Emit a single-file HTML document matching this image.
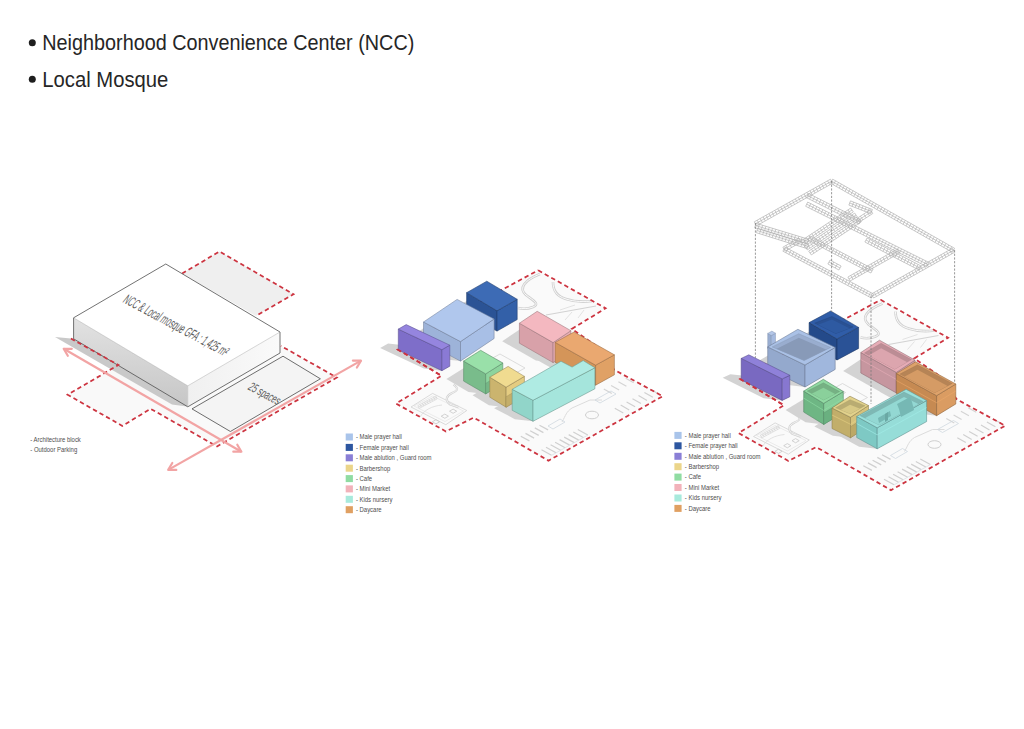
<!DOCTYPE html>
<html><head><meta charset="utf-8"><style>
html,body{margin:0;padding:0;background:#fff;}
body{width:1024px;height:729px;overflow:hidden;position:relative;font-family:"Liberation Sans",sans-serif;}
svg{position:absolute;left:0;top:0;}
</style></head><body>
<svg width="1024" height="729" viewBox="0 0 1024 729">
<g font-family="Liberation Sans">
<circle cx="32.3" cy="42.7" r="3.5" fill="#1e1e1e"/>
<circle cx="32.3" cy="79.2" r="3.5" fill="#1e1e1e"/>
<text x="42.3" y="50" font-size="21.5" fill="#262626" textLength="372" lengthAdjust="spacingAndGlyphs">Neighborhood Convenience Center (NCC)</text>
<text x="42.3" y="86.5" font-size="21.5" fill="#262626" textLength="126" lengthAdjust="spacingAndGlyphs">Local Mosque</text>
</g>
<g id="d1">
<polygon points="182.1,273.6 219.5,251.5 293.5,294.2 256.0,315.9" fill="#efefef" stroke="none" stroke-width="0" />
<polyline points="182.1,273.6 219.5,251.5 293.5,294.2 256.0,315.9" fill="none" stroke="#cd3440" stroke-width="1.75" stroke-dasharray="4.4 3.1" stroke-dashoffset="0.00" stroke-linejoin="miter"/>
<polygon points="118.4,365.0 67.6,394.7 122.3,425.9 150.6,408.8 217.0,446.4 336.8,377.5 280.9,345.9 188.0,405.0" fill="#f9f9f9" stroke="none" stroke-width="0" />
<polygon points="73.6,338.8 55.0,337.0 172.0,404.5 188.7,406.8" fill="#c9c9c9" stroke="none" stroke-width="0" />
<defs><linearGradient id="lf" x1="0" y1="0" x2="0" y2="1"><stop offset="0" stop-color="#e2e2e2"/><stop offset="1" stop-color="#c6c6c6"/></linearGradient><linearGradient id="rf" x1="0" y1="0" x2="1" y2="0"><stop offset="0" stop-color="#f0f0f0"/><stop offset="1" stop-color="#fafafa"/></linearGradient></defs>
<polygon points="73.6,317.8 187.8,385.8 187.8,406.8 73.6,338.8" fill="url(#lf)" stroke="none" stroke-width="0" />
<polygon points="187.8,385.8 280.0,332.0 280.0,353.0 187.8,406.8" fill="url(#rf)" stroke="none" stroke-width="0" />
<polygon points="73.6,317.8 165.8,264.0 280.0,332.0 187.8,385.8" fill="#ffffff" stroke="none" stroke-width="0" />
<polyline points="73.6,338.8 73.6,317.8 165.8,264.0 280.0,332.0 280.0,353.0 187.8,406.8 73.6,338.8" fill="none" stroke="#4e4e4e" stroke-width="0.8" stroke-linejoin="round"/>
<polyline points="73.6,317.8 187.8,385.8 280.0,332.0" fill="none" stroke="#9a9a9a" stroke-width="0.4" />
<polyline points="187.8,385.8 187.8,406.8" fill="none" stroke="#b0b0b0" stroke-width="0.4" />
<polyline points="70.9,338.5 118.4,365.0 67.6,394.7 122.3,425.9 150.6,408.8 217.0,446.4 336.8,377.5 280.9,345.9" fill="none" stroke="#cd3440" stroke-width="1.75" stroke-dasharray="4.4 3.1" stroke-dashoffset="0.00" stroke-linejoin="miter"/>
<polygon points="192.0,408.9 283.0,356.2 320.4,378.8 230.4,431.5" fill="#f4f4f4" stroke="#4a4a4a" stroke-width="0.8" />
<line x1="63.7" y1="348.8" x2="241.4" y2="451.7" stroke="#f2a4a4" stroke-width="2.2"/>
<polyline points="233.3,451.7 241.4,451.7 237.3,444.7" fill="none" stroke="#f2a4a4" stroke-width="2.2" stroke-linecap="round" stroke-linejoin="round"/>
<polyline points="67.8,355.8 63.7,348.8 71.8,348.8" fill="none" stroke="#f2a4a4" stroke-width="2.2" stroke-linecap="round" stroke-linejoin="round"/>
<line x1="168.2" y1="469.9" x2="361" y2="360.6" stroke="#f2a4a4" stroke-width="2.2"/>
<polyline points="356.9,367.5 361.0,360.6 352.9,360.6" fill="none" stroke="#f2a4a4" stroke-width="2.2" stroke-linecap="round" stroke-linejoin="round"/>
<polyline points="176.3,469.9 168.2,469.9 172.3,463.0" fill="none" stroke="#f2a4a4" stroke-width="2.2" stroke-linecap="round" stroke-linejoin="round"/>
<text transform="matrix(0.883,0.47,-0.62,0.78,122,302)" font-family="Liberation Sans" font-size="14.5" fill="#5a5a5a" textLength="116" lengthAdjust="spacingAndGlyphs">NCC &amp; Local mosque GFA : 1,425 m²</text>
<text transform="matrix(0.883,0.47,-0.62,0.78,247,389)" font-family="Liberation Sans" font-size="13" fill="#5a5a5a" textLength="34" lengthAdjust="spacingAndGlyphs">25 spaces</text>
</g>
<g transform="translate(0,0)">
<polygon points="538.2,270.3 605.6,308.3 571.9,328.9 595.0,345.0 614.4,369.9 662.7,396.2 548.5,460.7 473.8,417.6 445.9,431.4 396.1,403.6 441.5,375.7 397.6,349.4 500.1,290.8" fill="#fafafa" stroke="none" stroke-width="0" />
<path d="M540,274 C525,280 518,288 526,295 C534,301 540,304 533,307 C528,309 522,309 518,308" stroke="#d0d0d0" stroke-width="2.6" fill="none"/>
<path d="M540,274 C525,280 518,288 526,295 C534,301 540,304 533,307 C528,309 522,309 518,308" stroke="#fafafa" stroke-width="1.0" fill="none"/>
<path d="M553,282 C553,290 556,296 566,299 C575,302 585,302 592,301" stroke="#d0d0d0" stroke-width="2.6" fill="none"/>
<path d="M553,282 C553,290 556,296 566,299 C575,302 585,302 592,301" stroke="#fafafa" stroke-width="1.0" fill="none"/>
<path d="M546,315 L596,306" stroke="#d2d2d2" stroke-width="1.2" fill="none"/>
<path d="M565,320 L572,312 M578,318 L584,310 M560,310 L575,305" stroke="#dcdcdc" stroke-width="0.8" fill="none"/>
<polygon points="411.0,407.0 432.6,393.4 466.8,410.5 445.8,424.7" fill="none" stroke="#d2d2d2" stroke-width="0.8" />
<polygon points="414.0,406.0 432.6,396.0 463.5,411.0 445.0,421.5" fill="none" stroke="#e0e0e0" stroke-width="0.6" />
<path d="M419.2,408.4L437.2,398.9M417.8,405.6L435.8,396.1M418.5,407.0L436.5,397.5M419.2,408.4L417.8,405.6M421.5,407.2L420.0,404.4M423.7,406.0L422.3,403.2M426.0,404.9L424.5,402.0M428.2,403.7L426.8,400.8M430.5,402.5L429.0,399.6M432.7,401.3L431.3,398.5M435.0,400.1L433.5,397.3M437.2,398.9L435.8,396.1" stroke="#d0d0d0" stroke-width="0.6" fill="none"/>
<polygon points="432.4,421.8 436.0,419.7 439.6,421.8 436.0,423.9" fill="none" stroke="#c8c8c8" stroke-width="0.8" />
<polygon points="441.2,416.2 444.8,414.1 448.4,416.2 444.8,418.3" fill="none" stroke="#c8c8c8" stroke-width="0.8" />
<polygon points="449.5,411.2 453.1,409.1 456.7,411.2 453.1,413.3" fill="none" stroke="#c8c8c8" stroke-width="0.8" />
<path d="M453.6,384.6 C458,388 459,390 452,393 C446,396 445,400 449.7,404.2 L458.5,407.1" stroke="#d2d2d2" stroke-width="2.2" fill="none"/>
<path d="M453.6,384.6 C458,388 459,390 452,393 C446,396 445,400 449.7,404.2 L458.5,407.1" stroke="#fafafa" stroke-width="0.8" fill="none"/>
<path d="M420,417 C424,410 432,406 442,405" stroke="#dadada" stroke-width="0.8" fill="none"/>
<polygon points="480.0,365.0 500.0,354.0 525.0,368.0 505.0,379.0" fill="none" stroke="#d4d4d4" stroke-width="0.8" />
<polygon points="488.0,364.0 496.0,359.0 503.0,363.0 495.0,368.0" fill="none" stroke="#cfcfcf" stroke-width="0.8" />
<polygon points="500.0,372.0 507.0,368.0 513.0,372.0 506.0,376.0" fill="none" stroke="#cfcfcf" stroke-width="0.8" />
<path d="M541.5,449.8l10,5.5M546.0,447.3l10,5.5M550.6,444.7l10,5.5M555.1,442.2l10,5.5M559.6,439.6l10,5.5M564.2,437.1l10,5.5M568.7,434.6l10,5.5M573.3,432.0l10,5.5M577.8,429.5l10,5.5" stroke="#d0d0d0" stroke-width="1.2" fill="none"/>
<path d="M520.8,436.2l8.6,4.7M525.5,433.4l8.6,4.7M530.1,430.7l8.6,4.7M534.8,427.9l8.6,4.7M539.5,425.2l8.6,4.7" stroke="#d0d0d0" stroke-width="1.2" fill="none"/>
<path d="M614.8,408.3l8.5,4.8M620.7,405.1l8.5,4.8M626.6,401.9l8.5,4.8M632.5,398.8l8.5,4.8M638.5,395.6l8.5,4.8M644.4,392.4l8.5,4.8M650.3,389.2l8.5,4.8" stroke="#d0d0d0" stroke-width="1.2" fill="none"/>
<path d="M603.8,389.1l8,4.5M611.1,385.5l8,4.5M618.4,381.8l8,4.5M625.7,378.2l8,4.5" stroke="#d4d4d4" stroke-width="1.2" fill="none"/>
<polyline points="551.6,455.3 588.0,435.0" fill="none" stroke="#d8dde2" stroke-width="0.7" />
<ellipse cx="592" cy="415" rx="6.5" ry="3.8" fill="none" stroke="#cfcfcf" stroke-width="1"/>
<path d="M562,422 C566,415 566,412 572,408 L590,400 L602,400" stroke="#d8d8d8" stroke-width="0.9" fill="none"/>
<polygon points="595.0,400.0 611.0,391.0 616.0,394.0 600.0,403.0" fill="none" stroke="#cfd8e0" stroke-width="0.8" />
<polygon points="548.0,426.0 560.0,419.0 565.0,422.0 553.0,429.0" fill="none" stroke="#cfd8e0" stroke-width="0.8" />
</g>
<polygon points="449.1,311.0 469.3,299.5 486.8,301.5 517.2,319.6 497.0,331.1 479.5,329.1" fill="#d3d3d3" stroke="none" stroke-width="0" />
<polygon points="406.7,339.6 440.3,316.9 457.1,318.9 494.1,338.5 460.5,361.1 443.7,359.2" fill="#d3d3d3" stroke="none" stroke-width="0" />
<polygon points="380.2,348.0 388.1,343.5 406.2,345.6 449.8,366.2 441.9,370.7 423.8,368.6" fill="#d3d3d3" stroke="none" stroke-width="0" />
<polygon points="502.2,341.2 520.0,329.3 537.2,331.3 570.9,350.7 553.1,362.6 535.9,360.6" fill="#d3d3d3" stroke="none" stroke-width="0" />
<polygon points="538.0,360.4 556.8,350.0 574.0,352.0 614.4,374.8 595.6,385.2 578.4,383.2" fill="#d3d3d3" stroke="none" stroke-width="0" />
<polygon points="446.4,379.1 463.5,368.3 480.7,370.3 502.8,383.1 485.7,393.9 468.5,391.9" fill="#d3d3d3" stroke="none" stroke-width="0" />
<polygon points="472.6,395.2 490.9,384.4 508.1,386.4 524.4,396.4 506.1,407.2 488.9,405.2" fill="#d3d3d3" stroke="none" stroke-width="0" />
<polygon points="494.1,408.2 556.0,375.7 574.1,377.8 594.9,388.8 533.0,421.3 514.9,419.2" fill="#d3d3d3" stroke="none" stroke-width="0" />
<g transform="translate(0,0)"><polyline points="538.2,270.3 605.6,308.3 571.9,328.9 595.0,345.0 614.4,369.9 662.7,396.2 548.5,460.7 473.8,417.6 445.9,431.4 396.1,403.6 441.5,375.7 397.6,349.4 500.1,290.8 538.2,270.3" fill="none" stroke="#cd3440" stroke-width="1.75" stroke-dasharray="4.4 3.1" stroke-dashoffset="0.00" stroke-linejoin="miter"/></g>
<polygon points="466.6,292.7 497.0,310.8 497.0,331.1 466.6,313.0" fill="#2b5395" stroke="#1e3b6b" stroke-width="0.55" stroke-linejoin="round"/>
<polygon points="497.0,310.8 517.2,299.3 517.2,319.6 497.0,331.1" fill="#3360a8" stroke="#1e3b6b" stroke-width="0.55" stroke-linejoin="round"/>
<polygon points="466.6,292.7 486.8,281.2 517.2,299.3 497.0,310.8" fill="#3d6bb5" stroke="#1e3b6b" stroke-width="0.55" stroke-linejoin="round"/>
<polygon points="423.5,322.0 460.5,341.6 460.5,361.1 423.5,341.5" fill="#9db3d9" stroke="#71809c" stroke-width="0.55" stroke-linejoin="round"/>
<polygon points="460.5,341.6 494.1,319.0 494.1,338.5 460.5,361.1" fill="#a8bfe6" stroke="#71809c" stroke-width="0.55" stroke-linejoin="round"/>
<polygon points="423.5,322.0 457.1,299.4 494.1,319.0 460.5,341.6" fill="#b0c7ed" stroke="#71809c" stroke-width="0.55" stroke-linejoin="round"/>
<polygon points="398.3,329.1 441.9,349.7 441.9,370.7 398.3,350.1" fill="#7e6ec9" stroke="#5a4f90" stroke-width="0.55" stroke-linejoin="round"/>
<polygon points="441.9,349.7 449.8,345.2 449.8,366.2 441.9,370.7" fill="#8a7ad5" stroke="#5a4f90" stroke-width="0.55" stroke-linejoin="round"/>
<polygon points="398.3,329.1 406.2,324.6 449.8,345.2 441.9,349.7" fill="#9585df" stroke="#5a4f90" stroke-width="0.55" stroke-linejoin="round"/>
<polygon points="519.4,323.2 553.1,342.6 553.1,362.6 519.4,343.2" fill="#d8a1a9" stroke="#9b7379" stroke-width="0.55" stroke-linejoin="round"/>
<polygon points="553.1,342.6 570.9,330.7 570.9,350.7 553.1,362.6" fill="#e8adb5" stroke="#9b7379" stroke-width="0.55" stroke-linejoin="round"/>
<polygon points="519.4,323.2 537.2,311.3 570.9,330.7 553.1,342.6" fill="#f4b8c0" stroke="#9b7379" stroke-width="0.55" stroke-linejoin="round"/>
<polygon points="555.2,342.4 595.6,365.2 595.6,385.2 555.2,362.4" fill="#d49559" stroke="#986b40" stroke-width="0.55" stroke-linejoin="round"/>
<polygon points="595.6,365.2 614.4,354.8 614.4,374.8 595.6,385.2" fill="#e0a165" stroke="#986b40" stroke-width="0.55" stroke-linejoin="round"/>
<polygon points="555.2,342.4 574.0,332.0 614.4,354.8 595.6,365.2" fill="#eaa870" stroke="#986b40" stroke-width="0.55" stroke-linejoin="round"/>
<polygon points="463.6,361.1 485.7,373.9 485.7,393.9 463.6,381.1" fill="#79bc8b" stroke="#578764" stroke-width="0.55" stroke-linejoin="round"/>
<polygon points="485.7,373.9 502.8,363.1 502.8,383.1 485.7,393.9" fill="#8dd49d" stroke="#578764" stroke-width="0.55" stroke-linejoin="round"/>
<polygon points="485.7,383.4 502.8,372.6 502.8,383.1 485.7,393.9" fill="#75b686" stroke="#578764" stroke-width="0.33" />
<polygon points="463.6,361.1 480.7,350.3 502.8,363.1 485.7,373.9" fill="#99e0a9" stroke="#578764" stroke-width="0.55" stroke-linejoin="round"/>
<polygon points="489.8,377.2 506.1,387.2 506.1,407.2 489.8,397.2" fill="#cbb46e" stroke="#92814f" stroke-width="0.55" stroke-linejoin="round"/>
<polygon points="506.1,387.2 524.4,376.4 524.4,396.4 506.1,407.2" fill="#e4cc81" stroke="#92814f" stroke-width="0.55" stroke-linejoin="round"/>
<polygon points="506.1,396.7 524.4,385.9 524.4,396.4 506.1,407.2" fill="#c4ae6a" stroke="#92814f" stroke-width="0.33" />
<polygon points="489.8,377.2 508.1,366.4 524.4,376.4 506.1,387.2" fill="#f0db90" stroke="#92814f" stroke-width="0.55" stroke-linejoin="round"/>
<polygon points="512.2,389.3 533.0,400.3 533.0,421.3 512.2,410.3" fill="#91d5c9" stroke="#689990" stroke-width="0.55" stroke-linejoin="round"/>
<polygon points="533.0,400.3 594.9,367.8 594.9,388.8 533.0,421.3" fill="#a5e5dc" stroke="#689990" stroke-width="0.55" stroke-linejoin="round"/>
<polygon points="512.2,389.3 561.0,361.3 572.1,367.1 583.2,360.6 594.9,367.8 533.0,400.3" fill="#afebe3" stroke="#689990" stroke-width="0.55" stroke-linejoin="round"/>
<g transform="translate(0,0)"><polyline points="441.5,375.7 397.6,349.4" fill="none" stroke="#cd3440" stroke-width="1.75" stroke-dasharray="4.4 3.1" stroke-dashoffset="590.44" stroke-linejoin="miter"/></g>
<g transform="translate(342.5,29.5)">
<polygon points="538.2,270.3 605.6,308.3 571.9,328.9 595.0,345.0 614.4,369.9 662.7,396.2 548.5,460.7 473.8,417.6 445.9,431.4 396.1,403.6 441.5,375.7 397.6,349.4 500.1,290.8" fill="#fafafa" stroke="none" stroke-width="0" />
<path d="M540,274 C525,280 518,288 526,295 C534,301 540,304 533,307 C528,309 522,309 518,308" stroke="#d0d0d0" stroke-width="2.6" fill="none"/>
<path d="M540,274 C525,280 518,288 526,295 C534,301 540,304 533,307 C528,309 522,309 518,308" stroke="#fafafa" stroke-width="1.0" fill="none"/>
<path d="M553,282 C553,290 556,296 566,299 C575,302 585,302 592,301" stroke="#d0d0d0" stroke-width="2.6" fill="none"/>
<path d="M553,282 C553,290 556,296 566,299 C575,302 585,302 592,301" stroke="#fafafa" stroke-width="1.0" fill="none"/>
<path d="M546,315 L596,306" stroke="#d2d2d2" stroke-width="1.2" fill="none"/>
<path d="M565,320 L572,312 M578,318 L584,310 M560,310 L575,305" stroke="#dcdcdc" stroke-width="0.8" fill="none"/>
<polygon points="411.0,407.0 432.6,393.4 466.8,410.5 445.8,424.7" fill="none" stroke="#d2d2d2" stroke-width="0.8" />
<polygon points="414.0,406.0 432.6,396.0 463.5,411.0 445.0,421.5" fill="none" stroke="#e0e0e0" stroke-width="0.6" />
<path d="M419.2,408.4L437.2,398.9M417.8,405.6L435.8,396.1M418.5,407.0L436.5,397.5M419.2,408.4L417.8,405.6M421.5,407.2L420.0,404.4M423.7,406.0L422.3,403.2M426.0,404.9L424.5,402.0M428.2,403.7L426.8,400.8M430.5,402.5L429.0,399.6M432.7,401.3L431.3,398.5M435.0,400.1L433.5,397.3M437.2,398.9L435.8,396.1" stroke="#d0d0d0" stroke-width="0.6" fill="none"/>
<polygon points="432.4,421.8 436.0,419.7 439.6,421.8 436.0,423.9" fill="none" stroke="#c8c8c8" stroke-width="0.8" />
<polygon points="441.2,416.2 444.8,414.1 448.4,416.2 444.8,418.3" fill="none" stroke="#c8c8c8" stroke-width="0.8" />
<polygon points="449.5,411.2 453.1,409.1 456.7,411.2 453.1,413.3" fill="none" stroke="#c8c8c8" stroke-width="0.8" />
<path d="M453.6,384.6 C458,388 459,390 452,393 C446,396 445,400 449.7,404.2 L458.5,407.1" stroke="#d2d2d2" stroke-width="2.2" fill="none"/>
<path d="M453.6,384.6 C458,388 459,390 452,393 C446,396 445,400 449.7,404.2 L458.5,407.1" stroke="#fafafa" stroke-width="0.8" fill="none"/>
<path d="M420,417 C424,410 432,406 442,405" stroke="#dadada" stroke-width="0.8" fill="none"/>
<polygon points="480.0,365.0 500.0,354.0 525.0,368.0 505.0,379.0" fill="none" stroke="#d4d4d4" stroke-width="0.8" />
<polygon points="488.0,364.0 496.0,359.0 503.0,363.0 495.0,368.0" fill="none" stroke="#cfcfcf" stroke-width="0.8" />
<polygon points="500.0,372.0 507.0,368.0 513.0,372.0 506.0,376.0" fill="none" stroke="#cfcfcf" stroke-width="0.8" />
<path d="M541.5,449.8l10,5.5M546.0,447.3l10,5.5M550.6,444.7l10,5.5M555.1,442.2l10,5.5M559.6,439.6l10,5.5M564.2,437.1l10,5.5M568.7,434.6l10,5.5M573.3,432.0l10,5.5M577.8,429.5l10,5.5" stroke="#d0d0d0" stroke-width="1.2" fill="none"/>
<path d="M520.8,436.2l8.6,4.7M525.5,433.4l8.6,4.7M530.1,430.7l8.6,4.7M534.8,427.9l8.6,4.7M539.5,425.2l8.6,4.7" stroke="#d0d0d0" stroke-width="1.2" fill="none"/>
<path d="M614.8,408.3l8.5,4.8M620.7,405.1l8.5,4.8M626.6,401.9l8.5,4.8M632.5,398.8l8.5,4.8M638.5,395.6l8.5,4.8M644.4,392.4l8.5,4.8M650.3,389.2l8.5,4.8" stroke="#d0d0d0" stroke-width="1.2" fill="none"/>
<path d="M603.8,389.1l8,4.5M611.1,385.5l8,4.5M618.4,381.8l8,4.5M625.7,378.2l8,4.5" stroke="#d4d4d4" stroke-width="1.2" fill="none"/>
<polyline points="551.6,455.3 588.0,435.0" fill="none" stroke="#d8dde2" stroke-width="0.7" />
<ellipse cx="592" cy="415" rx="6.5" ry="3.8" fill="none" stroke="#cfcfcf" stroke-width="1"/>
<path d="M562,422 C566,415 566,412 572,408 L590,400 L602,400" stroke="#d8d8d8" stroke-width="0.9" fill="none"/>
<polygon points="595.0,400.0 611.0,391.0 616.0,394.0 600.0,403.0" fill="none" stroke="#cfd8e0" stroke-width="0.8" />
<polygon points="548.0,426.0 560.0,419.0 565.0,422.0 553.0,429.0" fill="none" stroke="#cfd8e0" stroke-width="0.8" />
</g>
<polygon points="791.0,341.5 812.6,329.9 830.7,332.0 858.6,348.4 837.0,360.0 818.9,357.9" fill="#d3d3d3" stroke="none" stroke-width="0" />
<polygon points="748.8,366.7 779.0,349.1 797.9,351.3 835.2,369.4 805.0,387.0 786.1,384.8" fill="#d3d3d3" stroke="none" stroke-width="0" />
<polygon points="722.7,377.8 730.3,374.2 748.8,376.3 789.8,396.8 782.2,400.4 763.7,398.2" fill="#d3d3d3" stroke="none" stroke-width="0" />
<polygon points="843.2,370.9 861.9,358.6 879.5,360.7 915.0,380.6 896.3,392.9 878.7,390.9" fill="#d3d3d3" stroke="none" stroke-width="0" />
<polygon points="879.2,391.5 898.4,379.8 915.6,381.8 955.8,404.0 936.6,415.7 919.4,413.7" fill="#d3d3d3" stroke="none" stroke-width="0" />
<polygon points="785.6,410.0 805.2,398.2 823.3,400.3 843.3,412.6 823.7,424.4 805.6,422.3" fill="#d3d3d3" stroke="none" stroke-width="0" />
<polygon points="814.4,426.4 832.4,414.6 850.0,416.7 868.5,426.0 850.5,437.8 832.9,435.8" fill="#d3d3d3" stroke="none" stroke-width="0" />
<polygon points="838.6,435.4 888.0,408.2 906.1,410.3 926.6,421.6 877.2,448.8 859.1,446.7" fill="#d3d3d3" stroke="none" stroke-width="0" />
<g transform="translate(342.5,29.5)"><polyline points="538.2,270.3 605.6,308.3 571.9,328.9 595.0,345.0 614.4,369.9 662.7,396.2 548.5,460.7 473.8,417.6 445.9,431.4 396.1,403.6 441.5,375.7 397.6,349.4 500.1,290.8 538.2,270.3" fill="none" stroke="#cd3440" stroke-width="1.75" stroke-dasharray="4.4 3.1" stroke-dashoffset="0.00" stroke-linejoin="miter"/></g>
<polygon points="809.1,322.6 837.0,339.0 837.0,360.0 809.1,343.6" fill="#244a8a" stroke="#193563" stroke-width="0.55" stroke-linejoin="round"/>
<polygon points="837.0,339.0 858.6,327.4 858.6,348.4 837.0,360.0" fill="#2a5296" stroke="#193563" stroke-width="0.55" stroke-linejoin="round"/>
<polygon points="809.1,322.6 830.7,311.0 858.6,327.4 837.0,339.0" fill="#305da8" stroke="#193563" stroke-width="0.55" stroke-linejoin="round"/>
<clipPath id="c1"><polygon points="814.7,323.1 831.9,316.5 853.0,326.9 835.8,333.5"/></clipPath><polygon points="814.7,323.1 831.9,316.5 853.0,326.9 835.8,333.5" fill="#2a5193" stroke="#214175" stroke-width="0.3" /><g clip-path="url(#c1)"><polygon points="814.7,326.1 831.9,319.5 853.0,329.9 835.8,336.5" fill="#2e5aa2" stroke="none" stroke-width="0" /></g>
<polygon points="767.7,333.4 771.3,335.5 771.3,350.5 767.7,348.4" fill="#9aaed2" stroke="#7a8aa8" stroke-width="0.4" stroke-linejoin="round"/>
<polygon points="771.3,335.5 775.5,333.2 775.5,348.2 771.3,350.5" fill="#a6bbe0" stroke="#7a8aa8" stroke-width="0.4" stroke-linejoin="round"/>
<polygon points="767.7,333.4 771.9,331.1 775.5,333.2 771.3,335.5" fill="#b4c7e8" stroke="#7a8aa8" stroke-width="0.4" stroke-linejoin="round"/>
<polygon points="767.7,346.9 805.0,365.0 805.0,387.0 767.7,368.9" fill="#94a9cd" stroke="#6a7993" stroke-width="0.55" stroke-linejoin="round"/>
<polygon points="805.0,365.0 835.2,347.4 835.2,369.4 805.0,387.0" fill="#a0b7dd" stroke="#6a7993" stroke-width="0.55" stroke-linejoin="round"/>
<polygon points="767.7,346.9 797.9,329.3 835.2,347.4 805.0,365.0" fill="#aac1e6" stroke="#6a7993" stroke-width="0.55" stroke-linejoin="round"/>
<clipPath id="c2"><polygon points="772.2,346.9 798.8,333.7 830.7,347.4 804.1,360.6"/></clipPath><polygon points="772.2,346.9 798.8,333.7 830.7,347.4 804.1,360.6" fill="#99adcf" stroke="#7687a1" stroke-width="0.3" /><g clip-path="url(#c2)"><polygon points="772.2,350.9 798.8,337.7 830.7,351.4 804.1,364.6" fill="#889ab8" stroke="none" stroke-width="0" /></g>
<polygon points="741.2,358.4 782.2,378.9 782.2,400.4 741.2,379.9" fill="#7969c1" stroke="#574b8a" stroke-width="0.55" stroke-linejoin="round"/>
<polygon points="782.2,378.9 789.8,375.3 789.8,396.8 782.2,400.4" fill="#8777d0" stroke="#574b8a" stroke-width="0.55" stroke-linejoin="round"/>
<polygon points="741.2,358.4 748.8,354.8 789.8,375.3 782.2,378.9" fill="#8f81d9" stroke="#574b8a" stroke-width="0.55" stroke-linejoin="round"/>
<polygon points="860.8,352.5 896.3,372.4 896.3,392.9 860.8,373.0" fill="#c6969f" stroke="#8e6c72" stroke-width="0.55" stroke-linejoin="round"/>
<polygon points="896.3,372.4 915.0,360.1 915.0,380.6 896.3,392.9" fill="#d6a2ac" stroke="#8e6c72" stroke-width="0.55" stroke-linejoin="round"/>
<polygon points="860.8,352.5 879.5,340.2 915.0,360.1 896.3,372.4" fill="#e6acb6" stroke="#8e6c72" stroke-width="0.55" stroke-linejoin="round"/>
<polyline points="860.8,359.5 896.3,379.4 915.0,367.1" fill="none" stroke="#e7aeb9" stroke-width="0.6" />
<clipPath id="c3"><polygon points="864.3,353.0 881.1,343.3 911.5,359.6 894.7,369.3"/></clipPath><polygon points="864.3,353.0 881.1,343.3 911.5,359.6 894.7,369.3" fill="#bc8d95" stroke="#a1787f" stroke-width="0.3" /><g clip-path="url(#c3)"><polygon points="864.3,358.0 881.1,348.3 911.5,364.6 894.7,374.3" fill="#dca5ae" stroke="none" stroke-width="0" /></g>
<polygon points="896.4,373.5 936.6,395.7 936.6,415.7 896.4,393.5" fill="#c68a52" stroke="#8e633b" stroke-width="0.55" stroke-linejoin="round"/>
<polygon points="936.6,395.7 955.8,384.0 955.8,404.0 936.6,415.7" fill="#da9c62" stroke="#8e633b" stroke-width="0.55" stroke-linejoin="round"/>
<polygon points="896.4,373.5 915.6,361.8 955.8,384.0 936.6,395.7" fill="#dea26a" stroke="#8e633b" stroke-width="0.55" stroke-linejoin="round"/>
<polyline points="896.4,380.5 936.6,402.7 955.8,391.0" fill="none" stroke="#eba869" stroke-width="0.6" />
<clipPath id="c4"><polygon points="899.9,374.1 917.5,364.8 952.3,383.4 934.7,392.7"/></clipPath><polygon points="899.9,374.1 917.5,364.8 952.3,383.4 934.7,392.7" fill="#b68456" stroke="#9b714a" stroke-width="0.3" /><g clip-path="url(#c4)"><polygon points="899.9,379.1 917.5,369.8 952.3,388.4 934.7,397.7" fill="#d59b65" stroke="none" stroke-width="0" /></g>
<polygon points="803.7,391.1 823.7,403.4 823.7,424.4 803.7,412.1" fill="#6eb684" stroke="#4f835f" stroke-width="0.55" stroke-linejoin="round"/>
<polygon points="823.7,403.4 843.3,391.6 843.3,412.6 823.7,424.4" fill="#86ce9a" stroke="#4f835f" stroke-width="0.55" stroke-linejoin="round"/>
<polygon points="823.7,412.9 843.3,401.1 843.3,412.6 823.7,424.4" fill="#6ab080" stroke="#4f835f" stroke-width="0.33" />
<polygon points="803.7,391.1 823.3,379.3 843.3,391.6 823.7,403.4" fill="#90d9a2" stroke="#4f835f" stroke-width="0.55" stroke-linejoin="round"/>
<polyline points="803.7,398.1 823.7,410.4 843.3,398.6" fill="none" stroke="#90dea6" stroke-width="0.6" />
<clipPath id="c5"><polygon points="807.2,391.1 823.4,382.8 839.8,391.6 823.6,399.9"/></clipPath><polygon points="807.2,391.1 823.4,382.8 839.8,391.6 823.6,399.9" fill="#76b184" stroke="#649771" stroke-width="0.3" /><g clip-path="url(#c5)"><polygon points="807.2,396.1 823.4,387.8 839.8,396.6 823.6,404.9" fill="#8ad09b" stroke="none" stroke-width="0" /></g>
<polygon points="832.0,408.0 850.5,417.3 850.5,437.8 832.0,428.5" fill="#c2ae6a" stroke="#8b7d4c" stroke-width="0.55" stroke-linejoin="round"/>
<polygon points="850.5,417.3 868.5,405.5 868.5,426.0 850.5,437.8" fill="#d6c27c" stroke="#8b7d4c" stroke-width="0.55" stroke-linejoin="round"/>
<polygon points="850.5,426.8 868.5,415.0 868.5,426.0 850.5,437.8" fill="#bca866" stroke="#8b7d4c" stroke-width="0.33" />
<polygon points="832.0,408.0 850.0,396.2 868.5,405.5 850.5,417.3" fill="#e2d28c" stroke="#8b7d4c" stroke-width="0.55" stroke-linejoin="round"/>
<polyline points="832.0,415.0 850.5,424.3 868.5,412.5" fill="none" stroke="#e7d185" stroke-width="0.6" />
<clipPath id="c6"><polygon points="835.5,407.8 850.1,399.7 865.0,405.7 850.4,413.8"/></clipPath><polygon points="835.5,407.8 850.1,399.7 865.0,405.7 850.4,413.8" fill="#b9ac72" stroke="#9e9362" stroke-width="0.3" /><g clip-path="url(#c6)"><polygon points="835.5,412.8 850.1,404.7 865.0,410.7 850.4,418.8" fill="#d8c986" stroke="none" stroke-width="0" /></g>
<polygon points="856.7,416.5 877.2,427.8 877.2,448.8 856.7,437.5" fill="#7ec9c4" stroke="#5a908d" stroke-width="0.55" stroke-linejoin="round"/>
<polygon points="877.2,427.8 926.6,400.6 926.6,421.6 877.2,448.8" fill="#96ddd8" stroke="#5a908d" stroke-width="0.55" stroke-linejoin="round"/>
<polygon points="856.7,416.5 906.1,389.3 926.6,400.6 877.2,427.8" fill="#9ae1dc" stroke="#5a908d" stroke-width="0.55" stroke-linejoin="round"/>
<polyline points="856.7,423.5 877.2,434.8 926.6,407.6" fill="none" stroke="#a2eee9" stroke-width="0.6" />
<clipPath id="c7"><polygon points="860.1,415.7 904.0,392.1 923.2,401.4 879.3,425.0"/></clipPath><polygon points="860.1,415.7 904.0,392.1 923.2,401.4 879.3,425.0" fill="#7eb8b4" stroke="#6b9d9a" stroke-width="0.3" /><g clip-path="url(#c7)"><polygon points="860.1,420.7 904.0,397.1 923.2,406.4 879.3,430.0" fill="#93d8d3" stroke="none" stroke-width="0" /></g>
<polygon points="897.0,404.0 910.0,397.0 912.0,402.0 914.0,410.0 901.0,417.0 899.0,409.0" fill="#76b8b4" stroke="none" stroke-width="0" />
<polygon points="878.0,418.0 890.0,411.0 891.0,416.0 879.0,423.0" fill="#76b8b4" stroke="none" stroke-width="0" />
<polygon points="885.0,414.0 888.0,412.0 888.0,420.0 885.0,422.0" fill="#6aa8a4" stroke="none" stroke-width="0" />
<g transform="translate(342.5,29.5)"><polyline points="441.5,375.7 397.6,349.4" fill="none" stroke="#cd3440" stroke-width="1.75" stroke-dasharray="4.4 3.1" stroke-dashoffset="590.44" stroke-linejoin="miter"/></g>
<g>
<path d="M756.5,225.8L832.7,183.2M754.3,221.8L830.5,179.2M755.4,223.8L831.6,181.2M756.5,225.8L754.3,221.8M759.5,224.2L757.2,220.2M762.4,222.5L760.1,218.5M765.3,220.9L763.1,216.9M768.2,219.3L766.0,215.2M771.2,217.6L768.9,213.6M774.1,216.0L771.9,212.0M777.0,214.3L774.8,210.3M780.0,212.7L777.7,208.7M782.9,211.1L780.7,207.0M785.8,209.4L783.6,205.4M788.8,207.8L786.5,203.8M791.7,206.1L789.4,202.1M794.6,204.5L792.4,200.5M797.6,202.9L795.3,198.9M800.5,201.2L798.2,197.2M803.4,199.6L801.2,195.6M806.3,198.0L804.1,193.9M809.3,196.3L807.0,192.3M812.2,194.7L810.0,190.7M815.1,193.0L812.9,189.0M818.1,191.4L815.8,187.4M821.0,189.8L818.8,185.7M823.9,188.1L821.7,184.1M826.9,186.5L824.6,182.5M829.8,184.8L827.5,180.8M832.7,183.2L830.5,179.2" stroke="#b2b2b2" stroke-width="0.7" fill="none"/>
<path d="M830.5,183.2L952.4,252.3M832.7,179.2L954.6,248.3M831.6,181.2L953.5,250.3M830.5,183.2L832.7,179.2M833.4,184.8L835.6,180.8M836.3,186.5L838.5,182.5M839.2,188.1L841.4,184.1M842.1,189.8L844.3,185.8M845.0,191.4L847.2,187.4M847.9,193.1L850.1,189.1M850.8,194.7L853.1,190.7M853.7,196.4L856.0,192.4M856.6,198.0L858.9,194.0M859.5,199.7L861.8,195.7M862.4,201.3L864.7,197.3M865.3,202.9L867.6,198.9M868.2,204.6L870.5,200.6M871.1,206.2L873.4,202.2M874.0,207.9L876.3,203.9M876.9,209.5L879.2,205.5M879.8,211.2L882.1,207.2M882.7,212.8L885.0,208.8M885.6,214.5L887.9,210.5M888.5,216.1L890.8,212.1M891.4,217.8L893.7,213.7M894.3,219.4L896.6,215.4M897.2,221.0L899.5,217.0M900.1,222.7L902.4,218.7M903.0,224.3L905.3,220.3M905.9,226.0L908.2,222.0M908.8,227.6L911.1,223.6M911.7,229.3L914.0,225.3M914.6,230.9L916.9,226.9M917.5,232.6L919.8,228.6M920.4,234.2L922.7,230.2M923.3,235.8L925.6,231.8M926.2,237.5L928.5,233.5M929.1,239.1L931.4,235.1M932.0,240.8L934.3,236.8M935.0,242.4L937.2,238.4M937.9,244.1L940.1,240.1M940.8,245.7L943.0,241.7M943.7,247.4L945.9,243.4M946.6,249.0L948.8,245.0M949.5,250.7L951.7,246.7M952.4,252.3L954.6,248.3" stroke="#b2b2b2" stroke-width="0.7" fill="none"/>
<path d="M952.4,248.3L871.4,294.0M954.6,252.3L873.6,298.0M953.5,250.3L872.5,296.0M952.4,248.3L954.6,252.3M949.5,249.9L951.7,253.9M946.6,251.6L948.8,255.6M943.7,253.2L946.0,257.2M940.8,254.8L943.1,258.8M937.9,256.5L940.2,260.5M935.0,258.1L937.3,262.1M932.1,259.7L934.4,263.7M929.2,261.4L931.5,265.4M926.3,263.0L928.6,267.0M923.4,264.6L925.7,268.6M920.5,266.3L922.8,270.3M917.7,267.9L919.9,271.9M914.8,269.5L917.0,273.5M911.9,271.1L914.1,275.2M909.0,272.8L911.2,276.8M906.1,274.4L908.3,278.4M903.2,276.0L905.5,280.0M900.3,277.7L902.6,281.7M897.4,279.3L899.7,283.3M894.5,280.9L896.8,284.9M891.6,282.6L893.9,286.6M888.7,284.2L891.0,288.2M885.8,285.8L888.1,289.8M882.9,287.5L885.2,291.5M880.0,289.1L882.3,293.1M877.2,290.7L879.4,294.7M874.3,292.4L876.5,296.4M871.4,294.0L873.6,298.0" stroke="#b2b2b2" stroke-width="0.7" fill="none"/>
<path d="M782.9,251.2L871.4,298.0M785.1,247.2L873.6,294.0M784.0,249.2L872.5,296.0M782.9,251.2L785.1,247.2M785.9,252.8L788.0,248.7M788.8,254.4L791.0,250.3M791.8,255.9L793.9,251.8M794.7,257.5L796.9,253.4M797.7,259.0L799.8,255.0M800.6,260.6L802.8,256.5M803.6,262.2L805.7,258.1M806.5,263.7L808.7,259.6M809.5,265.3L811.6,261.2M812.4,266.8L814.6,262.8M815.4,268.4L817.5,264.3M818.3,270.0L820.5,265.9M821.3,271.5L823.4,267.4M824.2,273.1L826.4,269.0M827.2,274.6L829.3,270.6M830.1,276.2L832.3,272.1M833.1,277.8L835.2,273.7M836.0,279.3L838.2,275.2M839.0,280.9L841.1,276.8M841.9,282.4L844.1,278.4M844.9,284.0L847.0,279.9M847.8,285.6L850.0,281.5M850.8,287.1L852.9,283.0M853.7,288.7L855.9,284.6M856.7,290.2L858.8,286.2M859.6,291.8L861.8,287.7M862.6,293.4L864.7,289.3M865.5,294.9L867.7,290.8M868.5,296.5L870.6,292.4M871.4,298.0L873.6,294.0" stroke="#b2b2b2" stroke-width="0.7" fill="none"/>
<path d="M785.1,251.2L801.1,242.0M782.9,247.2L798.9,238.0M784.0,249.2L800.0,240.0M785.1,251.2L782.9,247.2M788.3,249.4L786.1,245.4M791.5,247.5L789.3,243.5M794.7,245.7L792.5,241.7M797.9,243.8L795.7,239.8M801.1,242.0L798.9,238.0" stroke="#b2b2b2" stroke-width="0.7" fill="none"/>
<path d="M754.7,227.7L807.3,243.7M756.1,223.3L808.7,239.3M755.4,225.5L808.0,241.5M754.7,227.7L756.1,223.3M758.0,228.7L759.4,224.3M761.3,229.7L762.6,225.3M764.6,230.7L765.9,226.3M767.9,231.7L769.2,227.3M771.2,232.7L772.5,228.3M774.5,233.7L775.8,229.3M777.7,234.7L779.1,230.3M781.0,235.7L782.4,231.3M784.3,236.7L785.7,232.3M787.6,237.7L788.9,233.3M790.9,238.7L792.2,234.3M794.2,239.7L795.5,235.3M797.5,240.7L798.8,236.3M800.8,241.7L802.1,237.3M804.0,242.7L805.4,238.3M807.3,243.7L808.7,239.3" stroke="#b2b2b2" stroke-width="0.7" fill="none"/>
<path d="M756.3,232.7L807.3,248.7M757.7,228.3L808.7,244.3M757.0,230.5L808.0,246.5M756.3,232.7L757.7,228.3M759.5,233.7L760.9,229.3M762.7,234.7L764.1,230.3M765.9,235.7L767.3,231.3M769.1,236.7L770.4,232.3M772.2,237.7L773.6,233.3M775.4,238.7L776.8,234.3M778.6,239.7L780.0,235.3M781.8,240.7L783.2,236.3M785.0,241.7L786.4,237.3M788.2,242.7L789.6,238.3M791.4,243.7L792.8,239.3M794.6,244.7L795.9,240.3M797.7,245.7L799.1,241.3M800.9,246.7L802.3,242.3M804.1,247.7L805.5,243.3M807.3,248.7L808.7,244.3" stroke="#b2b2b2" stroke-width="0.7" fill="none"/>
<path d="M805.7,206.3L926.8,266.6M807.7,202.1L928.8,262.4M806.7,204.2L927.8,264.5M805.7,206.3L807.7,202.1M808.7,207.8L810.8,203.6M811.7,209.3L813.8,205.2M814.8,210.8L816.8,206.7M817.8,212.3L819.8,208.2M820.8,213.8L822.9,209.7M823.8,215.3L825.9,211.2M826.9,216.8L828.9,212.7M829.9,218.3L831.9,214.2M832.9,219.8L835.0,215.7M835.9,221.3L838.0,217.2M839.0,222.8L841.0,218.7M842.0,224.3L844.1,220.2M845.0,225.9L847.1,221.7M848.1,227.4L850.1,223.2M851.1,228.9L853.1,224.8M854.1,230.4L856.2,226.3M857.1,231.9L859.2,227.8M860.2,233.4L862.2,229.3M863.2,234.9L865.2,230.8M866.2,236.4L868.3,232.3M869.3,237.9L871.3,233.8M872.3,239.4L874.3,235.3M875.3,240.9L877.4,236.8M878.3,242.4L880.4,238.3M881.4,243.9L883.4,239.8M884.4,245.5L886.4,241.3M887.4,247.0L889.5,242.8M890.4,248.5L892.5,244.4M893.5,250.0L895.5,245.9M896.5,251.5L898.6,247.4M899.5,253.0L901.6,248.9M902.6,254.5L904.6,250.4M905.6,256.0L907.6,251.9M908.6,257.5L910.7,253.4M911.6,259.0L913.7,254.9M914.7,260.5L916.7,256.4M917.7,262.0L919.7,257.9M920.7,263.5L922.8,259.4M923.7,265.1L925.8,260.9M926.8,266.6L928.8,262.4" stroke="#b2b2b2" stroke-width="0.7" fill="none"/>
<path d="M806.5,197.7L859.0,224.1M808.5,193.5L861.0,219.9M807.5,195.6L860.0,222.0M806.5,197.7L808.5,193.5M809.6,199.2L811.6,195.1M812.6,200.8L814.7,196.7M815.7,202.3L817.8,198.2M818.8,203.9L820.9,199.8M821.9,205.4L824.0,201.3M825.0,207.0L827.1,202.9M828.1,208.5L830.2,204.4M831.2,210.1L833.2,206.0M834.3,211.6L836.3,207.5M837.3,213.2L839.4,209.1M840.4,214.7L842.5,210.6M843.5,216.3L845.6,212.2M846.6,217.8L848.7,213.7M849.7,219.4L851.8,215.3M852.8,220.9L854.9,216.8M855.9,222.5L857.9,218.4M859.0,224.1L861.0,219.9" stroke="#b2b2b2" stroke-width="0.7" fill="none"/>
<path d="M807.9,240.0L870.9,273.0M810.1,236.0L873.1,269.0M809.0,238.0L872.0,271.0M807.9,240.0L810.1,236.0M810.9,241.6L813.1,237.5M813.9,243.2L816.1,239.1M816.9,244.8L819.1,240.7M819.9,246.3L822.1,242.2M822.9,247.9L825.1,243.8M825.9,249.5L828.1,245.4M828.9,251.0L831.1,247.0M831.9,252.6L834.1,248.5M834.9,254.2L837.1,250.1M837.9,255.8L840.1,251.7M840.9,257.3L843.1,253.2M843.9,258.9L846.1,254.8M846.9,260.5L849.1,256.4M849.9,262.0L852.1,258.0M852.9,263.6L855.1,259.5M855.9,265.2L858.1,261.1M858.9,266.8L861.1,262.7M861.9,268.3L864.1,264.2M864.9,269.9L867.1,265.8M867.9,271.5L870.1,267.4M870.9,273.0L873.1,269.0" stroke="#b2b2b2" stroke-width="0.7" fill="none"/>
<path d="M803.3,244.9L853.3,211.9M800.7,241.1L850.7,208.1M802.0,243.0L852.0,210.0M803.3,244.9L800.7,241.1M806.0,243.1L803.5,239.2M808.8,241.3L806.3,237.4M811.6,239.4L809.1,235.6M814.4,237.6L811.8,233.7M817.2,235.8L814.6,231.9M819.9,233.9L817.4,230.1M822.7,232.1L820.2,228.2M825.5,230.3L823.0,226.4M828.3,228.4L825.7,224.6M831.0,226.6L828.5,222.7M833.8,224.8L831.3,220.9M836.6,222.9L834.1,219.1M839.4,221.1L836.8,217.2M842.2,219.3L839.6,215.4M844.9,217.4L842.4,213.6M847.7,215.6L845.2,211.7M850.5,213.8L848.0,209.9M853.3,211.9L850.7,208.1" stroke="#b2b2b2" stroke-width="0.7" fill="none"/>
<path d="M807.3,249.9L857.3,216.9M804.7,246.1L854.7,213.1M806.0,248.0L856.0,215.0M807.3,249.9L804.7,246.1M810.0,248.1L807.5,244.2M812.8,246.3L810.3,242.4M815.6,244.4L813.1,240.6M818.4,242.6L815.8,238.7M821.2,240.8L818.6,236.9M823.9,238.9L821.4,235.1M826.7,237.1L824.2,233.2M829.5,235.3L827.0,231.4M832.3,233.4L829.7,229.6M835.0,231.6L832.5,227.7M837.8,229.8L835.3,225.9M840.6,227.9L838.1,224.1M843.4,226.1L840.8,222.2M846.2,224.3L843.6,220.4M848.9,222.4L846.4,218.6M851.7,220.6L849.2,216.7M854.5,218.8L852.0,214.9M857.3,216.9L854.7,213.1" stroke="#b2b2b2" stroke-width="0.7" fill="none"/>
<path d="M811.3,254.9L861.3,221.9M808.7,251.1L858.7,218.1M810.0,253.0L860.0,220.0M811.3,254.9L808.7,251.1M814.0,253.1L811.5,249.2M816.8,251.3L814.3,247.4M819.6,249.4L817.1,245.6M822.4,247.6L819.8,243.7M825.2,245.8L822.6,241.9M827.9,243.9L825.4,240.1M830.7,242.1L828.2,238.2M833.5,240.3L831.0,236.4M836.3,238.4L833.7,234.6M839.0,236.6L836.5,232.7M841.8,234.8L839.3,230.9M844.6,232.9L842.1,229.1M847.4,231.1L844.8,227.2M850.2,229.3L847.6,225.4M852.9,227.4L850.4,223.6M855.7,225.6L853.2,221.7M858.5,223.8L856.0,219.9M861.3,221.9L858.7,218.1" stroke="#b2b2b2" stroke-width="0.7" fill="none"/>
<path d="M848.9,205.1L870.8,213.7M850.5,200.9L872.4,209.5M849.7,203.0L871.6,211.6M848.9,205.1L850.5,200.9M852.0,206.4L853.7,202.1M855.1,207.6L856.8,203.3M858.2,208.8L859.9,204.5M861.4,210.1L863.1,205.8M864.5,211.3L866.2,207.0M867.6,212.5L869.3,208.2M870.8,213.7L872.4,209.5" stroke="#b2b2b2" stroke-width="0.7" fill="none"/>
<path d="M870.4,209.7L857.1,218.3M872.8,213.5L859.5,222.1M871.6,211.6L858.3,220.2M870.4,209.7L872.8,213.5M867.0,211.8L869.5,215.7M863.7,214.0L866.2,217.8M860.4,216.1L862.9,220.0M857.1,218.3L859.5,222.1" stroke="#b2b2b2" stroke-width="0.7" fill="none"/>
<path d="M897.5,249.0L847.9,277.0M899.7,253.0L850.1,281.0M898.6,251.0L849.0,279.0M897.5,249.0L899.7,253.0M894.6,250.6L896.8,254.6M891.6,252.3L893.9,256.3M888.7,253.9L891.0,257.9M885.8,255.6L888.1,259.6M882.9,257.2L885.1,261.2M880.0,258.9L882.2,262.9M877.0,260.5L879.3,264.5M874.1,262.2L876.4,266.2M871.2,263.8L873.5,267.8M868.3,265.5L870.6,269.5M865.4,267.1L867.6,271.1M862.5,268.8L864.7,272.8M859.5,270.4L861.8,274.4M856.6,272.1L858.9,276.1M853.7,273.7L856.0,277.7M850.8,275.4L853.0,279.4M847.9,277.0L850.1,281.0" stroke="#b2b2b2" stroke-width="0.7" fill="none"/>
<path d="M827.9,264.0L838.9,270.0M830.1,260.0L841.1,266.0M829.0,262.0L840.0,268.0M827.9,264.0L830.1,260.0M831.6,266.0L833.8,262.0M835.2,268.0L837.4,264.0M838.9,270.0L841.1,266.0" stroke="#b2b2b2" stroke-width="0.7" fill="none"/>
<path d="M864.9,242.0L918.9,270.0M867.1,238.0L921.1,266.0M866.0,240.0L920.0,268.0M864.9,242.0L867.1,238.0M867.9,243.6L870.1,239.5M870.9,245.2L873.1,241.1M873.9,246.7L876.1,242.6M876.9,248.3L879.1,244.2M879.9,249.8L882.1,245.7M882.9,251.4L885.1,247.3M885.9,252.9L888.1,248.8M888.9,254.5L891.1,250.4M891.9,256.0L894.1,252.0M894.9,257.6L897.1,253.5M897.9,259.2L900.1,255.1M900.9,260.7L903.1,256.6M903.9,262.3L906.1,258.2M906.9,263.8L909.1,259.7M909.9,265.4L912.1,261.3M912.9,266.9L915.1,262.8M915.9,268.5L918.1,264.4M918.9,270.0L921.1,266.0" stroke="#b2b2b2" stroke-width="0.7" fill="none"/>
</g>
<line x1="755.4" y1="223" x2="755.4" y2="358" stroke="#787878" stroke-width="0.75" stroke-dasharray="2.2 1.5"/>
<line x1="831.6" y1="181" x2="831.6" y2="312" stroke="#787878" stroke-width="0.75" stroke-dasharray="2.2 1.5"/>
<line x1="954.6" y1="250" x2="954.6" y2="382" stroke="#787878" stroke-width="0.75" stroke-dasharray="2.2 1.5"/>
<line x1="871" y1="296" x2="871" y2="404" stroke="#787878" stroke-width="0.75" stroke-dasharray="2.2 1.5"/>
<rect x="345.7" y="433.5" width="7.2" height="7" fill="#a9c4ea"/>
<text transform="translate(355.9,439.3) scale(0.93,1)" font-family="Liberation Sans" font-size="6.4" fill="#4e4e4e">- Male prayer hall</text>
<rect x="345.7" y="443.9" width="7.2" height="7" fill="#2d56a0"/>
<text transform="translate(355.9,449.7) scale(0.93,1)" font-family="Liberation Sans" font-size="6.4" fill="#4e4e4e">- Female prayer hall</text>
<rect x="345.7" y="454.3" width="7.2" height="7" fill="#8a7fd6"/>
<text transform="translate(355.9,460.1) scale(0.93,1)" font-family="Liberation Sans" font-size="6.4" fill="#4e4e4e">- Male ablution , Guard room</text>
<rect x="345.7" y="464.7" width="7.2" height="7" fill="#ebd58a"/>
<text transform="translate(355.9,470.5) scale(0.93,1)" font-family="Liberation Sans" font-size="6.4" fill="#4e4e4e">- Barbershop</text>
<rect x="345.7" y="475.1" width="7.2" height="7" fill="#90dca2"/>
<text transform="translate(355.9,480.9) scale(0.93,1)" font-family="Liberation Sans" font-size="6.4" fill="#4e4e4e">- Cafe</text>
<rect x="345.7" y="485.4" width="7.2" height="7" fill="#f2b2ba"/>
<text transform="translate(355.9,491.2) scale(0.93,1)" font-family="Liberation Sans" font-size="6.4" fill="#4e4e4e">- Mini Market</text>
<rect x="345.7" y="495.8" width="7.2" height="7" fill="#a8eadc"/>
<text transform="translate(355.9,501.6) scale(0.93,1)" font-family="Liberation Sans" font-size="6.4" fill="#4e4e4e">- Kids nursery</text>
<rect x="345.7" y="506.2" width="7.2" height="7" fill="#e0a062"/>
<text transform="translate(355.9,512.0) scale(0.93,1)" font-family="Liberation Sans" font-size="6.4" fill="#4e4e4e">- Daycare</text>
<rect x="674.4" y="431.9" width="7.2" height="7" fill="#a9c4ea"/>
<text transform="translate(684.8,437.7) scale(0.93,1)" font-family="Liberation Sans" font-size="6.4" fill="#4e4e4e">- Male prayer hall</text>
<rect x="674.4" y="442.3" width="7.2" height="7" fill="#2d56a0"/>
<text transform="translate(684.8,448.1) scale(0.93,1)" font-family="Liberation Sans" font-size="6.4" fill="#4e4e4e">- Female prayer hall</text>
<rect x="674.4" y="452.8" width="7.2" height="7" fill="#8a7fd6"/>
<text transform="translate(684.8,458.6) scale(0.93,1)" font-family="Liberation Sans" font-size="6.4" fill="#4e4e4e">- Male ablution , Guard room</text>
<rect x="674.4" y="463.2" width="7.2" height="7" fill="#ebd58a"/>
<text transform="translate(684.8,469.0) scale(0.93,1)" font-family="Liberation Sans" font-size="6.4" fill="#4e4e4e">- Barbershop</text>
<rect x="674.4" y="473.6" width="7.2" height="7" fill="#90dca2"/>
<text transform="translate(684.8,479.4) scale(0.93,1)" font-family="Liberation Sans" font-size="6.4" fill="#4e4e4e">- Cafe</text>
<rect x="674.4" y="484.0" width="7.2" height="7" fill="#f2b2ba"/>
<text transform="translate(684.8,489.8) scale(0.93,1)" font-family="Liberation Sans" font-size="6.4" fill="#4e4e4e">- Mini Market</text>
<rect x="674.4" y="494.5" width="7.2" height="7" fill="#a8eadc"/>
<text transform="translate(684.8,500.3) scale(0.93,1)" font-family="Liberation Sans" font-size="6.4" fill="#4e4e4e">- Kids nursery</text>
<rect x="674.4" y="504.9" width="7.2" height="7" fill="#e0a062"/>
<text transform="translate(684.8,510.7) scale(0.93,1)" font-family="Liberation Sans" font-size="6.4" fill="#4e4e4e">- Daycare</text>
<text transform="translate(30.3,441.5) scale(0.93,1)" font-family="Liberation Sans" font-size="6.4" fill="#4e4e4e">- Architecture block</text>
<text transform="translate(30.3,451.7) scale(0.93,1)" font-family="Liberation Sans" font-size="6.4" fill="#4e4e4e">- Outdoor Parking</text>
</svg>
</body></html>
